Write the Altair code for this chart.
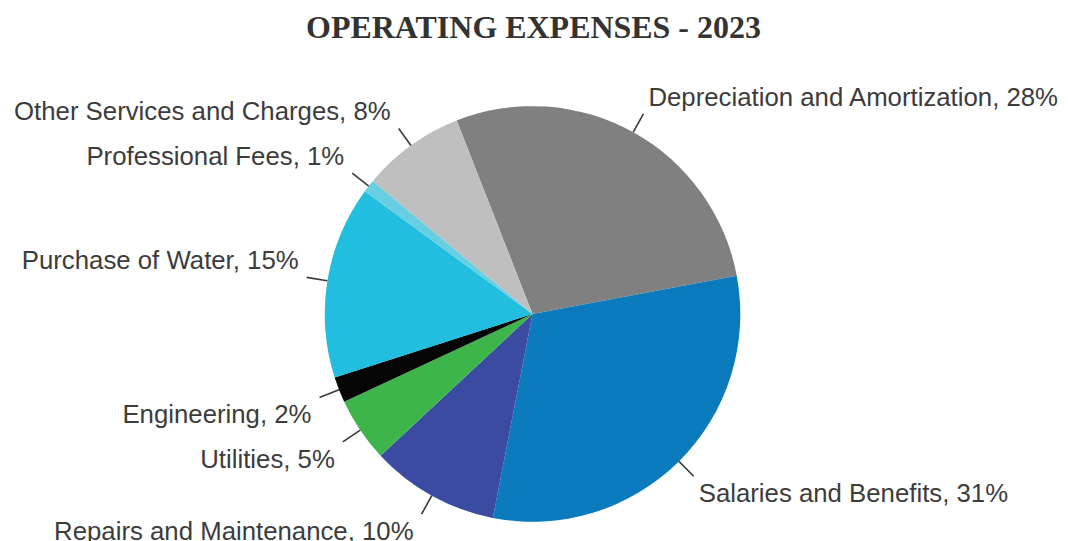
import math
import altair as alt
import pandas as pd

# ---- data (percent of operating expenses) ----
names = [
    "Depreciation and Amortization",
    "Salaries and Benefits",
    "Repairs and Maintenance",
    "Utilities",
    "Engineering",
    "Purchase of Water",
    "Professional Fees",
    "Other Services and Charges",
]
values = [28, 31, 10, 5, 2, 15, 1, 8]
colors = ["#808080", "#0b7bbd", "#3a4ba1", "#3db54a", "#050505", "#21bee0", "#68cfe2", "#bfbfbf"]

# ---- layout constants ----
W, H = 1052, 483
CX, CY, R = 525, 255, 208
R_LINE = 229
START = math.radians(-21.4)
TWO_PI = 2 * math.pi

total = float(sum(values))
rows = []
acc = 0.0
for i, (n, v) in enumerate(zip(names, values)):
    mid = START + TWO_PI * (acc + v / 2.0) / total
    acc += v
    s, c = math.sin(mid), math.cos(mid)
    x0, y0 = CX + R * s, CY - R * c
    x1, y1 = CX + R_LINE * s, CY - R_LINE * c
    side = "right" if s >= 0 else "left"
    lx = x1 + 5 if side == "right" else x1 - 8
    ly = y1 - 16 if c > 0 else y1 + 18
    rows.append(dict(idx=i, name=n, value=v, label=f"{n}, {v}%",
                     x0=x0, y0=y0, x1=x1, y1=y1, lx=lx, ly=ly, side=side))
df = pd.DataFrame(rows)

xs = alt.Scale(domain=[0, W])
ys = alt.Scale(domain=[0, H], reverse=True)

base = alt.Chart(df)

pie = base.mark_arc(radius=R).encode(
    theta=alt.Theta("value:Q", stack=True,
                    scale=alt.Scale(range=[START, START + TWO_PI])),
    order=alt.Order("idx:Q"),
    color=alt.Color("name:N", scale=alt.Scale(domain=names, range=colors), legend=None),
    x=alt.value(CX),
    y=alt.value(CY),
)

lines = base.mark_rule(color="#3a3a3a", strokeWidth=1.6).encode(
    x=alt.X("x0:Q", scale=xs, axis=None),
    y=alt.Y("y0:Q", scale=ys, axis=None),
    x2="x1:Q",
    y2="y1:Q",
)

txt_kw = dict(font="Liberation Sans", fontSize=25.8, color="#3c3c3c", baseline="middle")
right_txt = base.transform_filter("datum.side == 'right'").mark_text(align="left", **txt_kw).encode(
    x=alt.X("lx:Q", scale=xs, axis=None),
    y=alt.Y("ly:Q", scale=ys, axis=None),
    text="label:N",
)
left_txt = base.transform_filter("datum.side == 'left'").mark_text(align="right", **txt_kw).encode(
    x=alt.X("lx:Q", scale=xs, axis=None),
    y=alt.Y("ly:Q", scale=ys, axis=None),
    text="label:N",
)

chart = alt.layer(pie, lines, right_txt, left_txt).properties(
    width=W,
    height=H,
    padding={"left": 0, "top": 4, "right": 0, "bottom": 0},
    title=alt.TitleParams(
        "OPERATING EXPENSES - 2023",
        font="Liberation Serif",
        fontSize=32,
        fontWeight="bold",
        color="#333333",
        anchor="middle",
        offset=14,
    ),
).configure_view(stroke=None)

chart.save("out.html", embed_options={"renderer": "svg", "actions": False})
